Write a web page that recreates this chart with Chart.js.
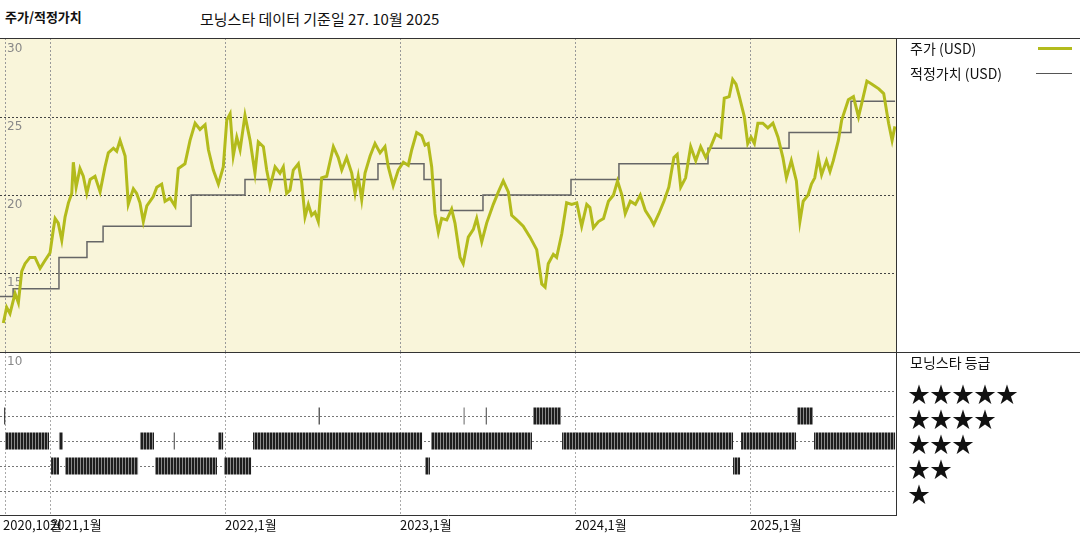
<!DOCTYPE html>
<html><head><meta charset="utf-8">
<script src="https://cdn.jsdelivr.net/npm/chart.js@4"></script>
<style>
body{margin:0;width:1080px;height:540px;background:#fff;position:relative;overflow:hidden;font-family:"Noto Sans CJK KR","Noto Sans",sans-serif;}
canvas{position:absolute;left:0;}
.t{position:absolute;white-space:nowrap;color:#111;}
.ln{position:absolute;}
</style></head><body>
<div class="t" style="left:5px;top:7px;font-size:13px;font-weight:bold;">주가/적정가치</div>
<div class="t" style="left:200px;top:8px;font-size:15px;">모닝스타 데이터 기준일 27. 10월 2025</div>
<canvas id="top" width="897" height="314" style="top:38px"></canvas>
<canvas id="bot" width="897" height="188" style="top:352px"></canvas>
<div class="ln" style="left:0;top:38px;width:1080px;height:1px;background:#333"></div>
<div class="ln" style="left:0;top:352px;width:1080px;height:1px;background:#333"></div>
<div class="ln" style="left:896px;top:38px;width:1px;height:478px;background:#333"></div>
<div class="t" style="left:910px;top:38px;font-size:14px;">주가 (USD)</div>
<div class="ln" style="left:1038px;top:47px;width:34px;height:3px;background:#b3bb1c"></div>
<div class="t" style="left:910px;top:63px;font-size:14px;">적정가치 (USD)</div>
<div class="ln" style="left:1036px;top:73px;width:36px;height:1px;background:#555"></div>
<div class="t" style="left:910px;top:352px;font-size:14px;">모닝스타 등급</div>
<div class="t" style="left:908px;top:376px;font-size:22px;letter-spacing:0px;">★★★★★</div>
<div class="t" style="left:908px;top:401px;font-size:22px;">★★★★</div>
<div class="t" style="left:908px;top:426px;font-size:22px;">★★★</div>
<div class="t" style="left:908px;top:451px;font-size:22px;">★★</div>
<div class="t" style="left:908px;top:476px;font-size:22px;">★</div>
<script>
const priceDates=[2020.733,2020.752,2020.771,2020.800,2020.819,2020.838,2020.857,2020.885,2020.914,2020.943,2020.971,2021.000,2021.019,2021.029,2021.047,2021.067,2021.086,2021.105,2021.124,2021.133,2021.149,2021.171,2021.190,2021.210,2021.229,2021.257,2021.286,2021.314,2021.333,2021.362,2021.381,2021.400,2021.429,2021.447,2021.476,2021.495,2021.514,2021.533,2021.553,2021.590,2021.610,2021.638,2021.657,2021.686,2021.714,2021.733,2021.771,2021.800,2021.829,2021.857,2021.886,2021.905,2021.933,2021.962,2021.990,2022.010,2022.029,2022.047,2022.067,2022.086,2022.114,2022.143,2022.171,2022.190,2022.219,2022.238,2022.257,2022.286,2022.314,2022.333,2022.352,2022.371,2022.390,2022.419,
2022.438,2022.457,2022.476,2022.495,2022.514,2022.533,2022.552,2022.581,2022.619,2022.647,2022.667,2022.695,2022.724,2022.743,2022.761,2022.781,2022.800,2022.829,2022.857,2022.886,2022.914,2022.933,2022.961,2022.990,2023.019,2023.047,2023.067,2023.095,2023.124,2023.143,2023.161,2023.181,2023.200,2023.219,2023.238,2023.267,2023.295,2023.314,2023.343,2023.361,2023.390,2023.419,2023.438,2023.467,2023.495,2023.533,2023.562,2023.590,2023.619,2023.638,2023.667,2023.704,2023.743,2023.781,2023.810,2023.829,2023.847,2023.876,2023.895,2023.924,2023.952,2023.981,2024.010,2024.038,2024.067,
2024.085,2024.105,2024.134,2024.163,2024.191,2024.220,2024.243,2024.268,2024.287,2024.316,2024.345,2024.373,2024.402,2024.431,2024.450,2024.479,2024.508,2024.536,2024.565,2024.584,2024.604,2024.632,2024.661,2024.690,2024.718,2024.747,2024.776,2024.805,2024.833,2024.853,2024.881,2024.901,2024.920,2024.939,2024.968,2024.987,2025.006,2025.025,2025.045,2025.073,2025.102,2025.131,2025.160,2025.188,2025.208,2025.236,2025.265,2025.285,2025.304,2025.332,2025.351,2025.370,2025.390,2025.409,2025.437,2025.457,2025.476,2025.505,2025.524,2025.562,2025.591,2025.620,2025.639,2025.668,2025.697,2025.736,2025.764,2025.792,2025.812,2025.828];
const priceValues=[11.8,12.8,12.4,13.7,13.1,15.1,15.6,16.0,16.0,15.3,15.8,16.3,17.8,18.5,18.2,17.1,18.6,19.5,20.1,22.1,20.5,21.7,21.2,20.1,21.0,21.2,20.2,21.8,22.7,23.0,22.8,23.5,22.5,19.4,20.4,20.1,19.5,18.3,19.3,19.9,20.5,20.7,19.6,19.8,19.3,21.7,22.0,23.5,24.6,24.2,24.5,22.9,21.6,20.7,21.8,24.8,25.2,22.5,23.7,22.9,25.1,23.5,21.4,23.4,23.1,21.6,20.5,21.8,21.4,21.8,20.1,20.3,21.6,22.0,
20.8,18.6,19.4,18.7,18.9,18.3,21.1,21.2,23.1,22.4,21.6,22.4,21.4,20.1,21.2,19.7,21.4,22.5,23.3,22.7,23.1,21.8,20.6,21.6,22.1,21.9,22.9,24.0,23.8,23.2,23.3,21.8,18.8,17.6,18.5,18.4,19.1,18.2,16.0,15.6,17.3,17.8,18.5,17.0,18.2,19.4,20.2,20.9,20.2,18.7,18.4,18.0,17.3,16.5,14.3,14.1,15.6,16.2,16.0,17.5,19.5,19.4,19.5,18.0,19.4,
19.2,17.9,18.3,18.5,19.6,20.0,20.9,20.0,18.8,19.6,19.4,20.0,19.0,18.5,18.1,18.8,19.6,20.5,22.4,22.6,20.5,21.1,23.1,22.2,23.1,22.4,23.1,23.9,23.7,26.2,26.3,27.4,27.1,26.3,25.0,23.3,23.7,23.3,24.6,24.6,24.3,24.6,23.7,22.4,21.1,22.2,20.9,18.3,19.6,20.0,20.7,21.1,22.4,21.3,22.2,21.5,22.2,23.5,24.8,26.1,26.3,25.0,25.9,27.3,27.1,26.8,26.5,24.6,23.5,24.4];
const fvDates=[2020.714,2020.789,2021.051,2021.211,2021.303,2021.806,2022.114,2022.874,2023.137,2023.234,2023.474,2023.977,2024.251,2024.760,2025.223,2025.577,2025.829];
const fvValues=[13.5,14,16,17,18,20,21,22,21,19,20,21,22,23,24,26,26];
// Morningstar rating periods [start,end] in decimal years
const rating4=[[2020.738,2020.745],[2022.535,2022.541],[2023.364,2023.370],[2023.489,2023.495],[2023.760,2023.920],[2025.269,2025.360]];
const rating3=[[2020.743,2020.994],[2021.051,2021.074],[2021.514,2021.594],[2021.706,2021.712],[2021.960,2021.989],[2022.160,2023.126],[2023.177,2023.754],[2023.926,2024.903],[2024.949,2025.263],[2025.366,2025.829]];
const rating2=[[2021.006,2021.051],[2021.086,2021.503],[2021.600,2021.954],[2021.994,2022.149],[2023.143,2023.171],[2024.903,2024.943]];
const rating1=[];
const rating5=[];
const gridYears=[2020.743,2021,2022,2023,2024,2025];
const dateLabels=["2020,10월","2021,1월","2022,1월","2023,1월","2024,1월","2025,1월"];
const yTicks=[30,25,20,15];
const X0=2020.714, X1=2025.840;

const pts=(xs,ys)=>xs.map((x,i)=>({x:x,y:ys[i]}));
const topGrid={id:'g1',beforeDatasetsDraw(c){const {ctx,chartArea:a,scales:{x,y}}=c;ctx.save();
 ctx.fillStyle='#f9f5da';ctx.fillRect(a.left,a.top,a.right-a.left,a.bottom-a.top);
 ctx.strokeStyle='#999';ctx.lineWidth=1;ctx.setLineDash([2,2]);
 gridYears.forEach(g=>{const px=Math.round(x.getPixelForValue(g))+.5;ctx.beginPath();ctx.moveTo(px,a.top);ctx.lineTo(px,a.bottom);ctx.stroke();});
 ctx.strokeStyle='#444';
 [15,20,25].forEach(v=>{const py=Math.round(y.getPixelForValue(v))+.5;ctx.beginPath();ctx.moveTo(a.left,py);ctx.lineTo(a.right,py);ctx.stroke();});
 ctx.setLineDash([]);ctx.fillStyle='#888';ctx.font='12px "DejaVu Sans"';ctx.textBaseline='top';
 yTicks.forEach(v=>ctx.fillText(String(v),7,y.getPixelForValue(v)+4));
 ctx.restore();}};
new Chart(document.getElementById('top'),{type:'line',
 data:{datasets:[
  {data:pts(priceDates,priceValues),borderColor:'#b3bb1c',borderWidth:3,pointRadius:0,tension:0},
  {data:pts(fvDates,fvValues),borderColor:'#666',borderWidth:1.5,pointRadius:0,stepped:'before'}]},
 options:{responsive:false,animation:false,layout:{padding:0},plugins:{legend:{display:false},tooltip:{enabled:false}},
  scales:{x:{type:'linear',min:X0,max:X1,display:false},y:{min:9.94,max:30.06,display:false}}},
 plugins:[topGrid]});

const pc=document.createElement('canvas');pc.width=3;pc.height=2;const pctx=pc.getContext('2d');
pctx.fillStyle='#1e1e1e';pctx.fillRect(0,0,2,2);pctx.fillStyle='#8a8a8a';pctx.fillRect(2,0,1,2);
const pattern=pctx.createPattern(pc,'repeat');
const segData=(segs,r)=>{const d=[];segs.forEach(s=>{d.push({x:s[0],y:r},{x:s[1],y:r},{x:s[1]+0.0001,y:null});});return d;};
const rowDs=(segs,r)=>({data:segData(segs,r),borderColor:pattern,borderWidth:17,borderCapStyle:'butt',pointRadius:0,spanGaps:false});
const botGrid={id:'g2',beforeDatasetsDraw(c){const {ctx,chartArea:a,scales:{x,y}}=c;ctx.save();
 const yb=Math.round(y.getPixelForValue(0.04))+.5;
 ctx.strokeStyle='#aaa';ctx.lineWidth=1;ctx.setLineDash([2,2]);
 gridYears.forEach(g=>{const px=Math.round(x.getPixelForValue(g))+.5;ctx.beginPath();ctx.moveTo(px,a.top);ctx.lineTo(px,yb);ctx.stroke();});
 ctx.strokeStyle='#777';
 [1,2,3,4,5].forEach(v=>{const py=Math.round(y.getPixelForValue(v))+.5;ctx.beginPath();ctx.moveTo(a.left,py);ctx.lineTo(a.right,py);ctx.stroke();});
 ctx.setLineDash([]);ctx.strokeStyle='#333';ctx.beginPath();ctx.moveTo(a.left,yb);ctx.lineTo(a.right,yb);ctx.stroke();
 ctx.fillStyle='#888';ctx.font='12px "DejaVu Sans"';ctx.textBaseline='top';ctx.fillText('10',7,4);
 ctx.fillStyle='#111';ctx.font='13px "Noto Sans CJK KR"';ctx.textBaseline='alphabetic';
 gridYears.forEach((g,i)=>ctx.fillText(dateLabels[i],Math.max(3,x.getPixelForValue(g)-(i===0?2:0)),yb+14));
 ctx.restore();}};
new Chart(document.getElementById('bot'),{type:'line',
 data:{datasets:[rowDs(rating5,5),rowDs(rating4,4),rowDs(rating3,3),rowDs(rating2,2),rowDs(rating1,1)]},
 options:{responsive:false,animation:false,layout:{padding:0},plugins:{legend:{display:false},tooltip:{enabled:false}},
  scales:{x:{type:'linear',min:X0,max:X1,display:false},y:{min:-0.96,max:6.56,display:false}}},
 plugins:[botGrid]});
</script></body></html>
